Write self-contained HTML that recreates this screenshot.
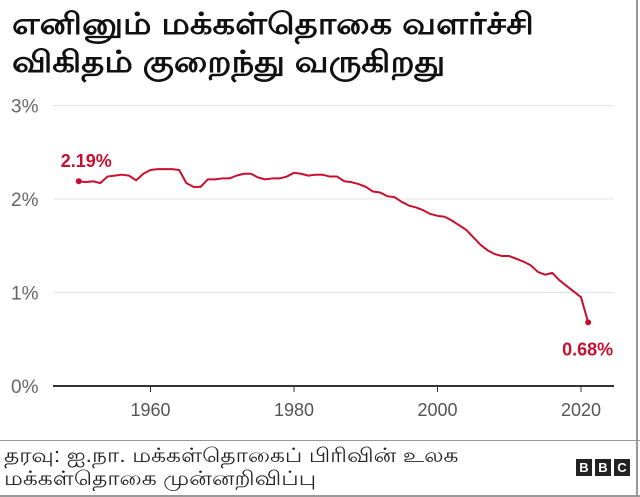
<!DOCTYPE html>
<html><head><meta charset="utf-8"><style>
body{margin:0;background:#fff;}
#wrap{position:relative;width:640px;height:497px;overflow:hidden;font-family:"Liberation Sans","Noto Sans CJK SC",sans-serif;}
.title{position:absolute;left:12px;top:6px;font-size:30px;font-weight:bold;line-height:38px;color:#111;transform:scaleX(1.18);transform-origin:0 0;white-space:nowrap;}
.foot{position:absolute;left:4px;top:445px;font-size:20px;line-height:23px;color:#222;transform:scaleX(1.17);transform-origin:0 0;white-space:nowrap;}
.bbc{position:absolute;left:576px;top:459px;display:flex;gap:3px;}
.bbc span{width:16px;height:17px;background:#222;color:#fff;font-weight:bold;font-size:13px;text-align:center;line-height:17px;}
</style></head><body>
<div id="wrap">
<div class="title">எனினும் மக்கள்தொகை வளர்ச்சி<br>விகிதம் குறைந்து வருகிறது</div>
<svg id="chart" width="640" height="497" style="position:absolute;left:0;top:0"></svg>
<div style="position:absolute;left:0;top:440px;width:640px;height:1px;background:#999"></div>
<div style="position:absolute;left:636px;top:0;width:2px;height:497px;background:#999"></div>
<div style="position:absolute;left:0;top:495px;width:640px;height:2px;background:#999"></div>
<div class="foot">தரவு: ஐ.நா. மக்கள்தொகைப் பிரிவின் உலக<br>மக்கள்தொகை முன்னறிவிப்பு</div>
<div class="bbc"><span>B</span><span>B</span><span>C</span></div>
</div>
<script>
const years=[1950,1951,1952,1953,1954,1955,1956,1957,1958,1959,1960,1961,1962,1963,1964,1965,1966,1967,1968,1969,1970,1971,1972,1973,1974,1975,1976,1977,1978,1979,1980,1981,1982,1983,1984,1985,1986,1987,1988,1989,1990,1991,1992,1993,1994,1995,1996,1997,1998,1999,2000,2001,2002,2003,2004,2005,2006,2007,2008,2009,2010,2011,2012,2013,2014,2015,2016,2017,2018,2019,2020,2021];
const rates=[2.19,2.18,2.19,2.17,2.24,2.25,2.26,2.25,2.2,2.27,2.31,2.32,2.32,2.32,2.31,2.17,2.13,2.13,2.21,2.21,2.22,2.22,2.25,2.27,2.27,2.23,2.21,2.22,2.22,2.24,2.28,2.27,2.25,2.26,2.26,2.24,2.24,2.19,2.18,2.16,2.13,2.08,2.07,2.03,2.02,1.97,1.93,1.91,1.88,1.84,1.82,1.81,1.77,1.72,1.67,1.59,1.51,1.45,1.41,1.39,1.39,1.36,1.33,1.29,1.22,1.19,1.21,1.13,1.07,1.01,0.95,0.68];
const yTicks=[0,1,2,3];
const xTicks=[1960,1980,2000,2020];
const NS="http://www.w3.org/2000/svg";
const svg=document.getElementById('chart');
const X=y=>150.5+(y-1960)*(430.5/60);
const Y=v=>386-v*93.5;
function mk(t,a){const e=document.createElementNS(NS,t);for(const k in a)e.setAttribute(k,a[k]);svg.appendChild(e);return e;}
yTicks.forEach(v=>{
  if(v>0){const g=mk('line',{x1:53,x2:614,y1:Y(v),y2:Y(v),stroke:'#e4e4e4','stroke-width':1});
  
  }
  const t=mk('text',{x:11,y:Y(v)+7,'font-size':19,fill:'#666','font-family':'Liberation Sans, sans-serif'});
  t.textContent=v+'%';
  
  
});
const ax=mk('line',{x1:53,x2:614,y1:386,y2:386,stroke:'#333','stroke-width':2});


xTicks.forEach(v=>{
  const tk=mk('line',{x1:X(v),x2:X(v),y1:386,y2:392,stroke:'#333','stroke-width':1});
  
  
  const t=mk('text',{x:X(v),y:416,'font-size':18,fill:'#555','text-anchor':'middle','font-family':'Liberation Sans, sans-serif'});
  t.textContent=v;
  
  
});
const p=mk('polyline',{points:years.map((y,i)=>X(y)+','+Y(rates[i])).join(' '),fill:'none',stroke:'#c8102e','stroke-width':2,'stroke-linejoin':'round'});


[[0,'2.19%',X(years[0])-18,Y(rates[0])-14,'start'],[years.length-1,'0.68%',X(years[years.length-1])+25,Y(rates[rates.length-1])+33,'end']].forEach(([i,lab,lx,ly,anc])=>{
  const c=mk('circle',{cx:X(years[i]),cy:Y(rates[i]),r:3,fill:'#c8102e'});
  
  
  const t=mk('text',{x:lx,y:ly,'font-size':18,'font-weight':'bold',fill:'#c8102e','text-anchor':anc,'font-family':'Liberation Sans, sans-serif'});
  t.textContent=lab;
  
  
});
</script>
</body></html>
